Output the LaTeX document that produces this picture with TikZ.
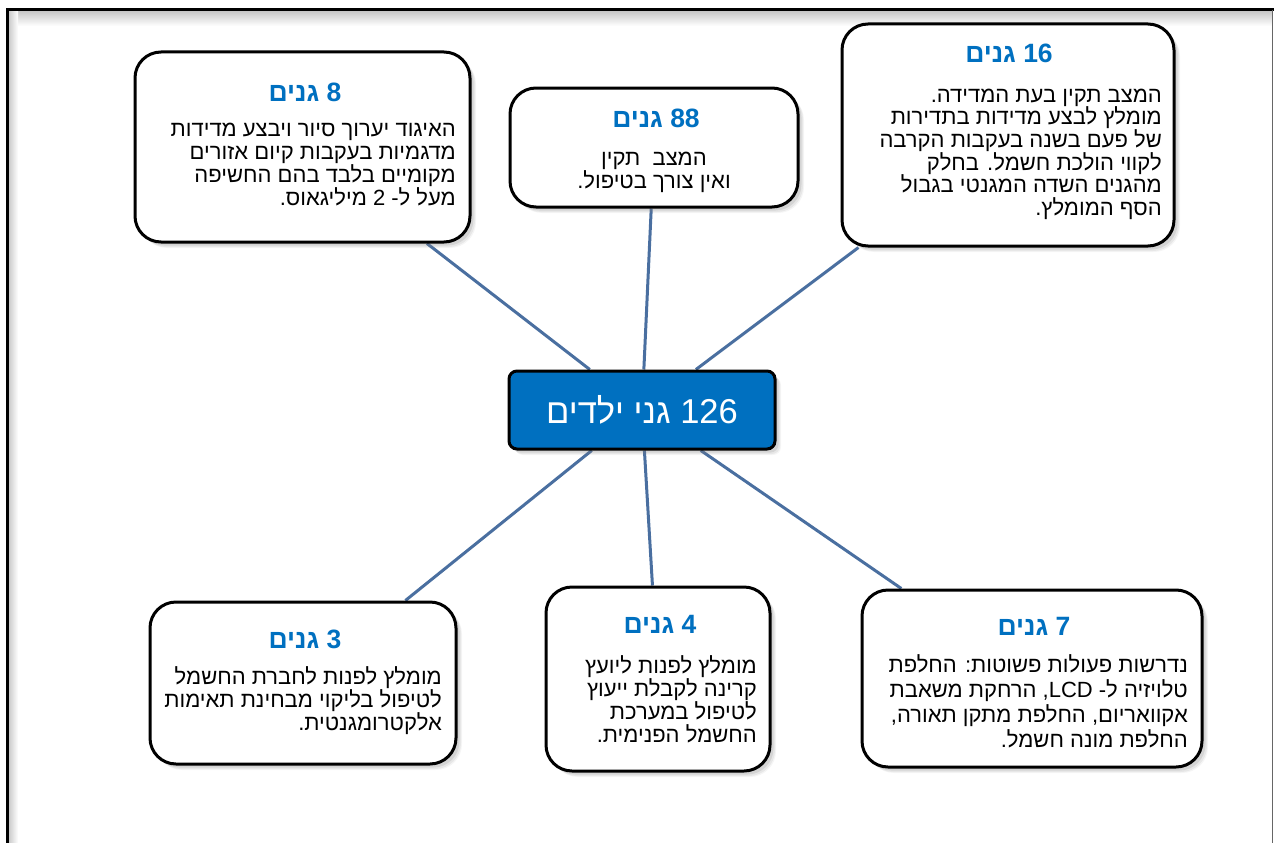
\documentclass[tikz,border=0pt]{standalone}
\usepackage{fontspec}
\newfontfamily\heb[Script=Hebrew]{Liberation Sans}
\TeXXeTstate=1
\usetikzlibrary{shadows,backgrounds}
\newcommand\RL[1]{\beginR #1\endR}
\definecolor{ttlblue}{RGB}{0,112,192}
\definecolor{linkblue}{RGB}{74,111,160}
\tikzset{
  softshadow/.style={
    drop shadow={shadow xshift=6pt, shadow yshift=-6pt, opacity=0.08},
    drop shadow={shadow xshift=5pt, shadow yshift=-5pt, opacity=0.12},
    drop shadow={shadow xshift=3.5pt, shadow yshift=-3.5pt, opacity=0.18}},
  card/.style={draw=black, line width=3pt, rounded corners=26pt, fill=white, softshadow},
  ttl/.style={anchor=base, inner sep=0pt, text=ttlblue,
    font=\heb\bfseries\fontsize{26.5}{30}\selectfont},
  body/.style={anchor=base east, inner sep=0pt, align=right,
    font=\heb\fontsize{22}{22.7}\selectfont},
  link/.style={draw=linkblue, line width=3pt},
}
\begin{document}
\begin{tikzpicture}[x=1pt,y=-1pt]
\useasboundingbox (0,0) rectangle (1274,843);
% frame
\shade[top color=black!22, bottom color=white] (8,11) rectangle (1272,26);
\shade[left color=black!22, right color=white] (8,11) rectangle (18,843);
\draw[line width=3pt] (7,843) -- (7,10) -- (1274,10);
\draw[black!60, line width=1pt] (1272,10) -- (1272,843);

% center
\node[draw=black, line width=3pt, fill=ttlblue, rounded corners=8pt,
  minimum width=266pt, minimum height=78pt, text=white,
  font=\heb\fontsize{34.5}{40}\selectfont, softshadow]
  (c) at (642,410) {\RL{126 גני ילדים}};

% boxes
\node[card, minimum width=335pt, minimum height=190pt] (b8) at (302.5,147) {};
\node[card, minimum width=288pt, minimum height=119pt] (b88) at (654,147.5) {};
\node[card, minimum width=332pt, minimum height=222pt] (b16) at (1008,135) {};
\node[card, minimum width=306pt, minimum height=162pt] (b3) at (303,683) {};
\node[card, minimum width=224pt, minimum height=184pt] (b4) at (658,679) {};
\node[card, minimum width=340pt, minimum height=177pt] (b7) at (1032,678.5) {};

% connectors
\begin{scope}[on background layer]
\draw[link] (c) -- (b8);
\draw[link] (c) -- (b88);
\draw[link] (c) -- (b16);
\draw[link] (c) -- (b3);
\draw[link] (c) -- (b4);
\draw[link] (c) -- (b7);
\end{scope}

% titles
\node[ttl] (t8) at (305,101) {\RL{8 גנים}};
\node[ttl] (t88) at (656,127) {\RL{88 גנים}};
\node[ttl] (t16) at (1009,63) {\RL{16 גנים}};
\node[ttl] (t3) at (305,648) {\RL{3 גנים}};
\node[ttl] (t4) at (660,633) {\RL{4 גנים}};
\node[ttl] (t7) at (1034,635) {\RL{7 גנים}};

% bodies (anchored at the baseline of their last line)
\node[body] (x8) at (456,205) {\RL{האיגוד יערוך סיור ויבצע מדידות}\\
  \RL{מדגמיות בעקבות קיום אזורים}\\
  \RL{מקומיים בלבד בהם החשיפה}\\
  \RL{מעל ל- 2 מיליגאוס.}};
\node[body, anchor=base, align=center] (x88) at (654,188) {\RL{המצב~ תקין}\\
  \RL{ואין צורך בטיפול.}};
\node[body] (x16) at (1162,215.5) {\RL{המצב תקין בעת המדידה.}\\
  \RL{מומלץ לבצע מדידות בתדירות}\\
  \RL{של פעם בשנה בעקבות הקרבה}\\
  \RL{לקווי הולכת חשמל. בחלק}\\
  \RL{מהגנים השדה המגנטי בגבול}\\
  \RL{הסף המומלץ.}};
\node[body] (x3) at (442,730) {\RL{מומלץ לפנות לחברת החשמל}\\
  \RL{לטיפול בליקוי מבחינת תאימות}\\
  \RL{אלקטרומגנטית.}};
\node[body] (x4) at (757,742) {\RL{מומלץ לפנות ליועץ}\\
  \RL{קרינה לקבלת ייעוץ}\\
  \RL{לטיפול במערכת}\\
  \RL{החשמל הפנימית.}};
\node[body, font=\heb\fontsize{22}{25}\selectfont] (x7) at (1188,747) {\RL{נדרשות פעולות פשוטות: החלפת}\\
  \RL{טלויזיה ל- \beginL LCD\endL, הרחקת משאבת}\\
  \RL{אקוואריום, החלפת מתקן תאורה,}\\
  \RL{החלפת מונה חשמל.}};
\end{tikzpicture}
\end{document}
